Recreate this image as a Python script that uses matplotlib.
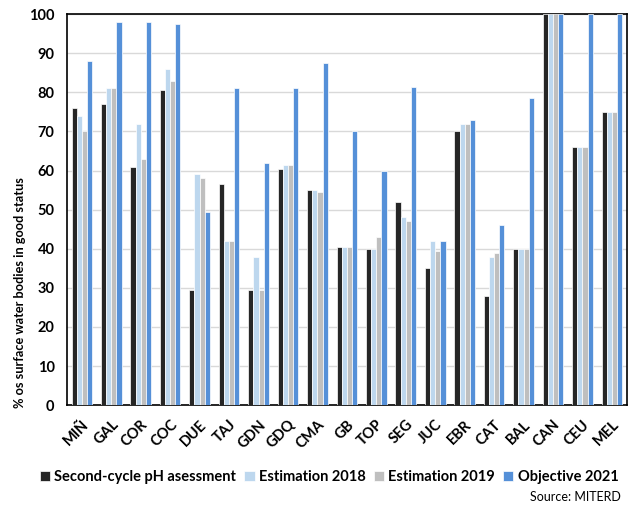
import numpy as np
import matplotlib
matplotlib.use("Agg")
import matplotlib.pyplot as plt

plt.rcParams['font.family'] = ['Lato', 'DejaVu Sans']

basins = ['MIÑ', 'GAL', 'COR', 'COC', 'DUE', 'TAJ', 'GDN', 'GDQ', 'CMA', 'GB',
          'TOP', 'SEG', 'JUC', 'EBR', 'CAT', 'BAL', 'CAN', 'CEU', 'MEL']
second_cycle = [76, 77, 61, 80.5, 29.5, 56.5, 29.5, 60.5, 55, 40.5,
                40, 52, 35, 70, 28, 40, 100, 66, 75]
est_2018 = [74, 81, 72, 86, 59, 42, 38, 61.5, 55, 40.5,
            40, 48, 42, 72, 38, 40, 100, 66, 75]
est_2019 = [70, 81, 63, 83, 58, 42, 29.5, 61.5, 54.5, 40.5,
            43, 47, 39.5, 72, 39, 40, 100, 66, 75]
objective_2021 = [88, 98, 98, 97.5, 49.5, 81, 62, 81, 87.5, 70,
                  60, 81.5, 42, 73, 46, 78.5, 100, 100, 100]

series = [
    ('Second-cycle pH asessment', second_cycle, '#262626'),
    ('Estimation 2018', est_2018, '#bdd7ee'),
    ('Estimation 2019', est_2019, '#bfbfbf'),
    ('Objective 2021', objective_2021, '#5590d8'),
]

fs = 10.5
fig = plt.figure(figsize=(6.33, 5.07), dpi=100)
ax = fig.add_axes([0.106, 0.201, 0.884, 0.771])

x = np.arange(len(basins))
w = 0.175
for i, (name, vals, color) in enumerate(series):
    ax.bar(x + (i - 1.5) * w, vals, w, color=color, edgecolor='white',
           linewidth=0.5, label=name, zorder=3)

ax.set_xlim(-0.5, len(basins) - 0.5)
ax.set_ylim(0, 100)
ax.set_yticks(np.arange(0, 101, 10))
ax.grid(axis='y', color='#d9d9d9', linewidth=1, zorder=0)
for s in ax.spines.values():
    s.set_color('black')
    s.set_linewidth(1.2)
ax.tick_params(axis='both', length=0, labelsize=fs)
ax.tick_params(axis='y', pad=9)
ax.tick_params(axis='x', pad=9)
ax.set_xticks(x)
ax.set_xticklabels(basins, rotation=45, ha='right', rotation_mode='anchor',
                   fontweight='bold')
for lbl in ax.get_yticklabels():
    lbl.set_fontweight('bold')

# axis title starts level with the bottom of the plot
ax.text(-0.084, -0.008, '% os surface water bodies in good status',
        transform=ax.transAxes, rotation=90, ha='center', va='bottom',
        fontsize=9.2, fontweight='bold')

fig.legend(loc='center', bbox_to_anchor=(0.52, 0.059), ncol=4, frameon=False,
           prop={'size': fs, 'weight': 'bold'}, handlelength=0.7,
           handleheight=0.7, handletextpad=0.3, columnspacing=0.55)
fig.text(0.981, 0.02, 'Source: MITERD', ha='right', va='center', fontsize=9)

fig.savefig('out.png', dpi=100)
